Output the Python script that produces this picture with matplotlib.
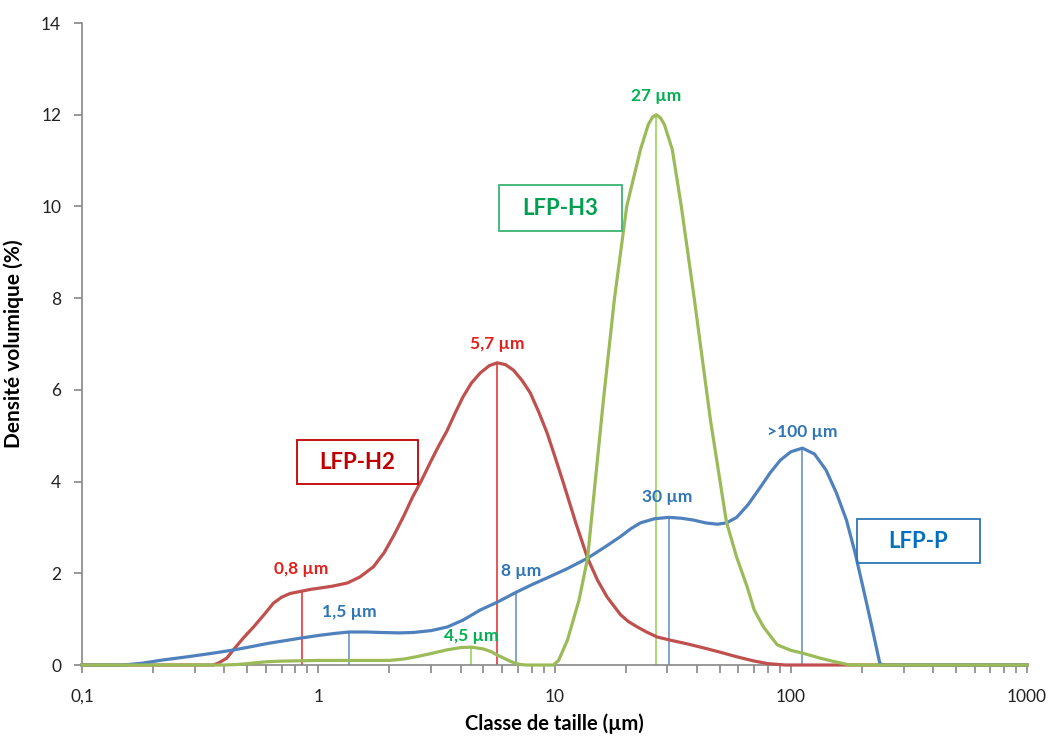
import matplotlib.pyplot as plt
from matplotlib.patches import Rectangle
from matplotlib.ticker import FixedLocator, FixedFormatter, NullFormatter

plt.rcParams['font.family'] = ['Lato', 'DejaVu Sans']

# LFP-H2 (red)
h2_x = [0.1, 0.36, 0.38, 0.41, 0.437, 0.48, 0.532, 0.59, 0.646, 0.7, 0.76, 0.85, 0.93, 1.02,
        1.15, 1.33, 1.5, 1.71, 1.9, 2.1, 2.3, 2.5, 2.75, 3.0, 3.25, 3.5, 3.8, 4.1, 4.45,
        4.85, 5.3, 5.72, 6.2, 6.7, 7.3, 7.9, 8.6, 9.3, 10.1, 10.9, 12.3, 13.8, 15.2, 16.7,
        19.0, 20.5, 22.4, 24.5, 27.2, 31.0, 36.5, 43.0, 50.2, 59.0, 69.5, 80.0, 95.0, 1000]
h2_y = [0, 0, 0.05, 0.15, 0.33, 0.58, 0.83, 1.1, 1.35, 1.48, 1.56, 1.61, 1.65, 1.68,
        1.72, 1.79, 1.92, 2.14, 2.45, 2.85, 3.25, 3.65, 4.05, 4.45, 4.8, 5.1, 5.5, 5.85, 6.15,
        6.37, 6.53, 6.59, 6.55, 6.43, 6.2, 5.93, 5.5, 5.06, 4.5, 3.97, 3.1, 2.33, 1.85, 1.48,
        1.1, 0.95, 0.83, 0.72, 0.61, 0.54, 0.46, 0.37, 0.28, 0.18, 0.09, 0.03, 0, 0]

# LFP-P (blue)
p_x = [0.1, 0.15, 0.18, 0.22, 0.28, 0.36, 0.44, 0.52, 0.61, 0.72, 0.85, 1.02, 1.18, 1.35,
       1.6, 1.83, 2.2, 2.53, 3.0, 3.52, 4.1, 4.85, 5.72, 6.9, 8.0, 9.3, 11.3, 13.8, 16.3,
       19.0, 21.0, 23.1, 26.5, 30.5, 34.5, 38.8, 43.5, 48.8, 53.5, 59.0, 66.0, 74.4, 82.0,
       90.4, 100, 112, 126, 141, 156, 172, 187, 202, 220, 238, 245, 1000]
p_y = [0, 0, 0.04, 0.11, 0.18, 0.26, 0.33, 0.4, 0.47, 0.53, 0.59, 0.65, 0.69, 0.72,
       0.72, 0.71, 0.7, 0.71, 0.75, 0.83, 0.98, 1.2, 1.37, 1.59, 1.75, 1.9, 2.1, 2.33, 2.57,
       2.8, 2.97, 3.1, 3.19, 3.22, 3.2, 3.16, 3.1, 3.07, 3.1, 3.22, 3.5, 3.88, 4.2,
       4.47, 4.65, 4.73, 4.6, 4.25, 3.75, 3.16, 2.45, 1.7, 0.85, 0.04, 0, 0]

# LFP-H3 (green)
h3_x = [0.1, 0.4, 0.45, 0.5, 0.6, 0.7, 0.8, 1.0, 1.5, 2.0, 2.3, 2.6, 3.0, 3.5, 4.0, 4.45,
        5.0, 5.4, 5.7, 6.1, 6.5, 6.9, 7.2, 7.6, 9.9, 10.4, 11.35, 12.7, 13.8, 14.6, 16.1,
        17.9, 20.2, 23.1, 24.9, 26.0, 27.0, 28.1, 29.2, 31.5, 34.4, 39.1, 45.7, 49.5, 53.4,
        59.0, 65.3, 70.0, 76.6, 87.6, 100, 112, 133, 154, 178, 1000]
h3_y = [0, 0, 0.01, 0.03, 0.07, 0.085, 0.09, 0.1, 0.1, 0.1, 0.13, 0.18, 0.25, 0.33, 0.38, 0.39,
        0.35, 0.29, 0.22, 0.15, 0.08, 0.03, 0.01, 0, 0, 0.1, 0.55, 1.42, 2.33, 3.6, 5.78,
        7.96, 10.0, 11.24, 11.78, 11.95, 12.0, 11.93, 11.78, 11.24, 10.0, 7.96, 5.34, 4.2, 3.12,
        2.35, 1.71, 1.2, 0.83, 0.44, 0.32, 0.26, 0.15, 0.07, 0, 0]

# peak markers: position, height, label
h2_peaks = [0.85, 5.7]
h2_peak_y = [1.61, 6.59]
h2_labels = ['0,8 µm', '5,7 µm']
p_peaks = [1.35, 6.9, 30.5, 112]
p_peak_y = [0.72, 1.59, 3.22, 4.73]
p_labels = ['1,5 µm', '8 µm', '30 µm', '>100 µm']
h3_peaks = [4.45, 27]
h3_peak_y = [0.39, 12.0]
h3_labels = ['4,5 µm', '27 µm']

xticks = [0.1, 1, 10, 100, 1000]
xtick_labels = ['0,1', '1', '10', '100', '1000']

red, blue, green = '#C0504D', '#4F81BD', '#9BBB59'

fig = plt.figure(figsize=(10.49, 7.38), dpi=100)
ax = fig.add_axes([0.0782, 0.0989, 0.9009, 0.8699])

# vertical peak lines
for x, y in zip(h2_peaks, h2_peak_y):
    ax.plot([x, x], [0, y], color='#E3262A', lw=1.1, zorder=2)
for x, y in zip(p_peaks, p_peak_y):
    ax.plot([x, x], [0, y], color='#5B8BC9', lw=1.1, zorder=2)
for x, y in zip(h3_peaks, h3_peak_y):
    ax.plot([x, x], [0, y], color='#92D050', lw=1.1, zorder=2)

ax.plot(h2_x, h2_y, color=red, lw=2.3, zorder=3, clip_on=False, solid_joinstyle='round')
ax.plot(p_x, p_y, color=blue, lw=2.3, zorder=4, clip_on=False, solid_joinstyle='round')
ax.plot(h3_x, h3_y, color=green, lw=2.3, zorder=5, clip_on=False, solid_joinstyle='round')

# peak labels
lab_pos_h2 = [(0.85, 2.09), (5.7, 7.0)]
lab_pos_p = [(1.35, 1.16), (7.2, 2.05), (30, 3.66), (112, 5.08)]
lab_pos_h3 = [(4.45, 0.63), (27, 12.4)]
for (x, y), t in zip(lab_pos_h2, h2_labels):
    ax.text(x, y, t, color='#E0201B', fontsize=12.5, fontweight='bold', ha='center', va='center')
for (x, y), t in zip(lab_pos_p, p_labels):
    ax.text(x, y, t, color='#2E75B6', fontsize=12.5, fontweight='bold', ha='center', va='center')
for (x, y), t in zip(lab_pos_h3, h3_labels):
    ax.text(x, y, t, color='#00B050', fontsize=12.5, fontweight='bold', ha='center', va='center')

# boxed series names
boxes = [
    ('LFP-H2', 0.2275, 0.2819, 0.1281, 0.0686, '#C00000', '#C00000'),
    ('LFP-H3', 0.4413, 0.6760, 0.1301, 0.0717, '#3CB371', '#00A050'),
    ('LFP-P', 0.8201, 0.1589, 0.1302, 0.0685, '#2E75B6', '#0070C0'),
]
for name, bx, by, bw, bh, ec, tc in boxes:
    ax.add_patch(Rectangle((bx, by), bw, bh, transform=ax.transAxes, fill=False,
                           edgecolor=ec, lw=1.3, zorder=6))
    ax.text(bx + bw / 2, by + bh / 2, name, transform=ax.transAxes, color=tc,
            fontsize=16, fontweight='bold', ha='center', va='center', zorder=7)

ax.set_xscale('log')
ax.set_xlim(0.1, 1000)
ax.set_ylim(0, 14)
ax.set_yticks(range(0, 15, 2))
ax.xaxis.set_major_locator(FixedLocator(xticks))
ax.xaxis.set_major_formatter(FixedFormatter(xtick_labels))
ax.xaxis.set_minor_formatter(NullFormatter())

for s in ['top', 'right']:
    ax.spines[s].set_visible(False)
for s in ['left', 'bottom']:
    ax.spines[s].set_color('#888888')
    ax.spines[s].set_linewidth(1.2)
ax.tick_params(axis='both', which='both', color='#888888', width=1.2, length=6,
               labelsize=12.5, labelcolor='#222222')
ax.tick_params(axis='x', which='both', pad=11)
ax.tick_params(axis='y', pad=9)

ax.set_xlabel('Classe de taille (µm)', fontsize=14.5, fontweight='bold', labelpad=6)
ax.set_ylabel('Densité volumique (%)', fontsize=15, fontweight='bold', labelpad=12)

fig.savefig('out.png', dpi=100)
